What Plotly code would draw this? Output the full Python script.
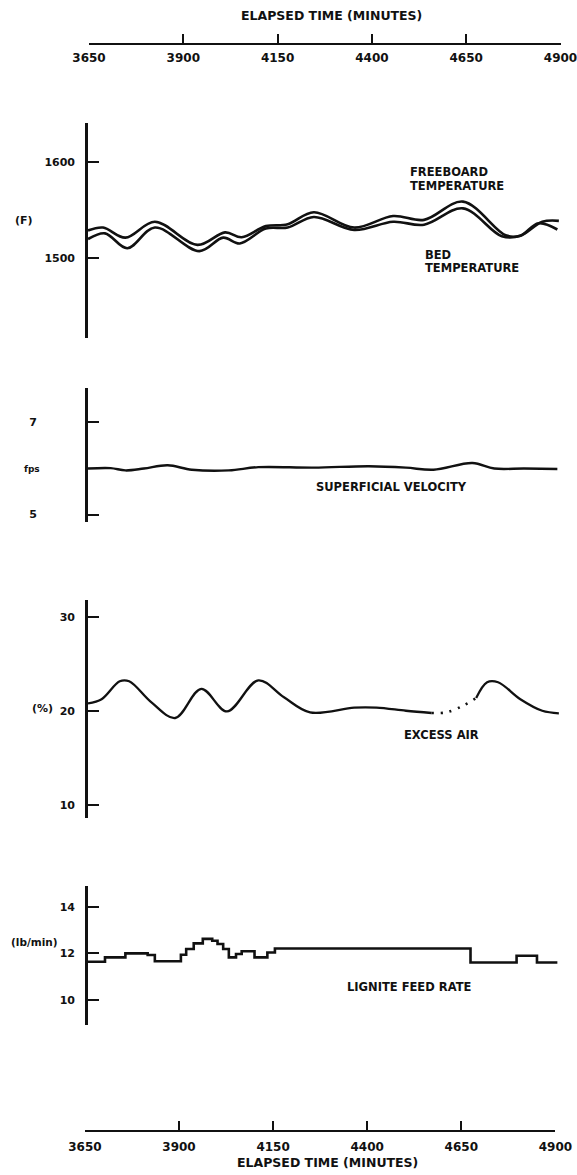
import plotly.graph_objects as go

W, H = 577, 1175

# ---------------- data ----------------
x_ticks = [3650, 3900, 4150, 4400, 4650, 4900]

temp_time_free = [3650, 3690, 3749, 3827, 3940, 4013, 4057, 4121, 4179, 4248,
                  4355, 4458, 4540, 4643, 4756, 4795, 4853, 4897]
freeboard_temp = [1529, 1532, 1521.5, 1538, 1514, 1527, 1522, 1533.5, 1535.5, 1548,
                  1532, 1544, 1540, 1559, 1524, 1523.5, 1538, 1539]
temp_time_bed = [3650, 3695, 3754, 3827, 3945, 4008, 4052, 4121, 4179, 4248,
                 4355, 4458, 4540, 4643, 4746, 4795, 4843, 4893]
bed_temp = [1520, 1526, 1510.5, 1532, 1507.5, 1521.5, 1515.5, 1531, 1532, 1543,
            1529.5, 1538, 1535, 1552, 1523, 1523.5, 1536.5, 1530]
temp_ticks = [1500, 1600]

vel_time = [3650, 3710, 3749, 3798, 3861, 3925, 4023, 4101, 4248, 4394,
            4492, 4565, 4668, 4726, 4805, 4893]
velocity = [5.99, 6.0, 5.95, 5.99, 6.06, 5.965, 5.95, 6.02, 6.01, 6.04,
            6.01, 5.965, 6.11, 5.99, 5.99, 5.98]
vel_ticks = [5, 7]

ea_time_a = [3650, 3686, 3734, 3759, 3818, 3881, 3950, 4018, 4101, 4169,
             4238, 4355, 4414, 4492, 4560]
excess_air_a = [20.85, 21.3, 23.2, 23.2, 20.96, 19.3, 22.4, 20.0, 23.3, 21.5,
                19.9, 20.4, 20.4, 20.07, 19.83]
ea_time_gap = [4560, 4599, 4643, 4678]
excess_air_gap = [19.83, 19.9, 20.6, 21.42]
ea_time_b = [4678, 4707, 4736, 4795, 4853, 4897]
excess_air_b = [21.42, 23.1, 23.1, 21.3, 20.07, 19.8]
ea_ticks = [10, 20, 30]

lig_time = [3650, 3695, 3749, 3808, 3827, 3896, 3910, 3930, 3954, 3979, 3993,
            4008, 4023, 4042, 4057, 4091, 4125, 4145, 4663, 4785, 4839, 4893]
lignite = [11.64, 11.83, 12.0, 11.93, 11.66, 11.94, 12.19, 12.43, 12.62, 12.54, 12.4,
           12.19, 11.83, 11.97, 12.09, 11.83, 12.04, 12.21, 11.61, 11.9, 11.61, 11.61]
lig_ticks = [10, 12, 14]

# ---------------- helpers ----------------
INK = "#111111"
FONT = "DejaVu Sans"


def fx(px):
    return px / W


def fy(py):
    return 1 - py / H


fig = go.Figure()

line_kw = dict(color=INK)

# temperature panel (x3 / y3)
fig.add_trace(go.Scatter(x=temp_time_free, y=freeboard_temp, mode="lines",
                         line=dict(width=2.6, shape="spline", smoothing=1.0, **line_kw),
                         xaxis="x3", yaxis="y3", hoverinfo="skip"))
fig.add_trace(go.Scatter(x=temp_time_bed, y=bed_temp, mode="lines",
                         line=dict(width=2.6, shape="spline", smoothing=1.0, **line_kw),
                         xaxis="x3", yaxis="y3", hoverinfo="skip"))
# velocity panel (x4 / y4)
fig.add_trace(go.Scatter(x=vel_time, y=velocity, mode="lines",
                         line=dict(width=2.4, shape="spline", smoothing=1.0, **line_kw),
                         xaxis="x4", yaxis="y4", hoverinfo="skip"))
# excess air panel (x5 / y5)
fig.add_trace(go.Scatter(x=ea_time_a, y=excess_air_a, mode="lines",
                         line=dict(width=2.3, shape="spline", smoothing=1.0, **line_kw),
                         xaxis="x5", yaxis="y5", hoverinfo="skip"))
fig.add_trace(go.Scatter(x=ea_time_gap, y=excess_air_gap, mode="lines",
                         line=dict(width=2.6, shape="spline", smoothing=1.0, dash="2px,7px", **line_kw),
                         xaxis="x5", yaxis="y5", hoverinfo="skip"))
fig.add_trace(go.Scatter(x=ea_time_b, y=excess_air_b, mode="lines",
                         line=dict(width=2.3, shape="spline", smoothing=1.0, **line_kw),
                         xaxis="x5", yaxis="y5", hoverinfo="skip"))
# lignite panel (x6 / y6)
fig.add_trace(go.Scatter(x=lig_time, y=lignite, mode="lines",
                         line=dict(width=2.6, shape="hv", **line_kw),
                         xaxis="x6", yaxis="y6", hoverinfo="skip"))
# carriers for the top and bottom time axes
fig.add_trace(go.Scatter(x=x_ticks, y=[0] * len(x_ticks), mode="markers",
                         marker=dict(opacity=0), xaxis="x", yaxis="y7", hoverinfo="skip"))
fig.add_trace(go.Scatter(x=x_ticks, y=[0] * len(x_ticks), mode="markers",
                         marker=dict(opacity=0), xaxis="x2", yaxis="y8", hoverinfo="skip"))

tick_font_x = dict(family=FONT, size=12, color=INK)
tick_font_y = dict(family=FONT, size=11, color=INK)

time_axis = dict(range=[3650, 4900], tickvals=x_ticks,
                 ticktext=[f"<b>{v}</b>" for v in x_ticks],
                 showline=True, linecolor=INK, linewidth=2.4,
                 ticks="inside", ticklen=9, tickwidth=2, tickcolor=INK,
                 showgrid=False, zeroline=False, tickfont=tick_font_x,
                 ticklabeloverflow="allow",
                 automargin=False, fixedrange=True)

hidden_x = dict(range=[3650, 4900], visible=False, domain=[fx(88), fx(560)],
                automargin=False, fixedrange=True)


def yaxis(domain_px, rng, tvals, anchor, standoff=8):
    return dict(domain=[fy(domain_px[1]), fy(domain_px[0])], range=rng,
                tickvals=tvals, ticktext=[f"<b>{v}</b>" for v in tvals],
                showline=True, linecolor=INK, linewidth=2.6,
                ticks="inside", ticklen=11, tickwidth=2.2, tickcolor=INK,
                showgrid=False, zeroline=False, tickfont=tick_font_y,
                ticklabelstandoff=standoff, ticklabeloverflow="allow",
                anchor=anchor, automargin=False, fixedrange=True)


fig.update_layout(
    template="none",
    width=W, height=H, margin=dict(l=0, r=0, t=0, b=0, pad=0, autoexpand=False),
    paper_bgcolor="white", plot_bgcolor="white", showlegend=False,
    xaxis=dict(domain=[fx(89), fx(560.5)], anchor="y7", ticklabelstandoff=2, **time_axis),
    xaxis2=dict(domain=[fx(84.9), fx(555.4)], anchor="y8", ticklabelstandoff=4, **time_axis),
    xaxis3=dict(anchor="y3", **hidden_x),
    xaxis4=dict(anchor="y4", **hidden_x),
    xaxis5=dict(anchor="y5", **hidden_x),
    xaxis6=dict(anchor="y6", **hidden_x),
    yaxis3=yaxis((123, 338), [1417.1, 1640.8], temp_ticks, "x3"),
    yaxis4=yaxis((388, 521.7), [4.845, 7.726], vel_ticks, "x4", standoff=46),
    yaxis5=yaxis((600, 818), [8.67, 31.84], ea_ticks, "x5"),
    yaxis6=yaxis((886, 1025), [8.93, 14.887], lig_ticks, "x6"),
    yaxis7=dict(domain=[fy(43.3), fy(40)], visible=False, anchor="x", range=[0, 1],
                automargin=False, fixedrange=True),
    yaxis8=dict(domain=[fy(1130), fy(1126)], visible=False, anchor="x2", range=[0, 1],
                automargin=False, fixedrange=True),
)


def label(text, px, py, size=12, xanchor="left"):
    fig.add_annotation(text=f"<b>{text}</b>", x=fx(px), y=fy(py), xref="paper", yref="paper",
                       xanchor=xanchor, yanchor="middle", showarrow=False,
                       font=dict(family=FONT, size=size, color=INK))


label("ELAPSED TIME (MINUTES)", 331, 16, size=12.5, xanchor="center")
label("ELAPSED TIME (MINUTES)", 327, 1162, size=12.5, xanchor="center")

label("(F)", 24, 220.7, size=11, xanchor="center")
label("fps", 32, 469, size=9, xanchor="center")
label("(%)", 42.5, 708, size=11, xanchor="center")
label("(lb/min)", 34, 942, size=10.5, xanchor="center")

label("FREEBOARD", 407.7, 172, size=11.5)
label("TEMPERATURE", 407.7, 186, size=11.5)
label("BED", 422.5, 255, size=11.5)
label("TEMPERATURE", 422.5, 267.5, size=11.5)
label("SUPERFICIAL VELOCITY", 313.7, 486.7, size=11.5)
label("EXCESS AIR", 402, 735, size=11.5)
label("LIGNITE FEED RATE", 345, 987, size=11.5)

fig.write_html("out.html")
